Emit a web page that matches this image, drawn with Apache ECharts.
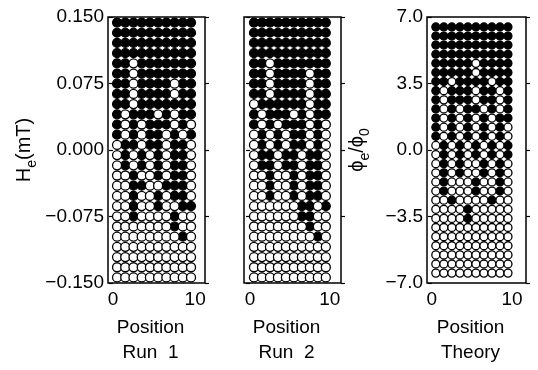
<!DOCTYPE html>
<html>
<head>
<meta charset="utf-8">
<script src="https://cdn.jsdelivr.net/npm/echarts@6/dist/echarts.min.js"></script>
<style>html,body{margin:0;padding:0;background:#fff;}#c{width:538px;height:370px;}</style>
</head>
<body>
<div id="c"></div>
<script>
// Column positions (cells along the array)
const cols = [0.5, 1.5, 2.5, 3.5, 4.5, 5.5, 6.5, 7.5, 8.5, 9.5];
// Applied field rows for measured runs (mT), top to bottom
const runFields = [0.14375, 0.13225, 0.12075, 0.10925, 0.09775, 0.08625, 0.07475, 0.06325, 0.05175, 0.04025, 0.02875, 0.01725, 0.00575,
  -0.00575, -0.01725, -0.02875, -0.04025, -0.05175, -0.06325, -0.07475, -0.08625, -0.09775, -0.10925, -0.12075, -0.13225, -0.14375];
// Flux rows for theory (phi_e/phi_0), top to bottom
const theoryFlux = [6.48, 6.00, 5.52, 5.04, 4.56, 4.08, 3.60, 3.12, 2.64, 2.16, 1.68, 1.20, 0.72, 0.24,
  -0.24, -0.72, -1.20, -1.68, -2.16, -2.64, -3.12, -3.60, -4.08, -4.56, -5.04, -5.52, -6.00, -6.48];
// 1 = filled (vortex), 0 = open
const run1 = [
  '1111111111','1111111111','1111111111','1111111111',
  '1101111111','1101111111','1101111011','1101111011','1101111111',
  '1011101011','1010111010','1010110101','0110110110','0101010110',
  '0101010110','0010010110','0011001110','0010010110','0010010011',
  '0010000100','0000000100','0000000010',
  '0000000000','0000000000','0000000000','0000000000'
];
const run2 = [
  '1111111111','1111111111','1111111111','1111111111',
  '1101111111','1101111011','1101111011','1101111011','0111111011',
  '1011101011','1010111010','0101011010','0101011010','0110110110',
  '0110110110','0010010110','0010010110','0010010110','0000001101',
  '0000001100','0000000100','0000000010',
  '0000000000','0000000000','0000000000','0000000000'
];
const theory = [
  '1111111111','1111111111','1111111111','1111111111',
  '1111101111','1111101111','1101111011','1011101101','1011101101',
  '1010110101','1010101011','1010101010','1010101010','0101010101',
  '0101010101','0101001010','0101001010','0100010010','0100010010',
  '0010000100','0000100000','0000100000',
  '0000000000','0000000000','0000000000','0000000000','0000000000','0000000000'
];
const xTickLabels = [0, 10];

function pts(pattern, ys, filled) {
  const out = [];
  pattern.forEach((row, i) => {
    cols.forEach((c, j) => {
      if ((row[j] === '1') === filled) out.push([c, ys[i]]);
    });
  });
  return out;
}

const FONT = 'Liberation Sans, Arial, sans-serif';
const FS = 19;

function fmt(v, digits) {
  if (Math.abs(v) < 1e-9) v = 0;
  return (v < 0 ? '−' : '') + Math.abs(v).toFixed(digits);
}

const grids = [
  { left: 108, top: 17, width: 97, height: 266 },
  { left: 244, top: 17, width: 97, height: 266 },
  { left: 427, top: 17, width: 99, height: 266 }
].map(g => Object.assign(g, { show: true, borderColor: '#000', borderWidth: 1.5, backgroundColor: 'transparent' }));

const xNames = ['Position\nRun  1', 'Position\nRun  2', 'Position\nTheory'];
const xMin = [-0.6, -0.75, -0.6];
const xMax = [11.2, 11.4, 11.75];

const xAxis = grids.map((g, i) => ({
  type: 'value', gridIndex: i, min: xMin[i], max: xMax[i],
  axisLine: { show: false }, splitLine: { show: false },
  axisTick: { show: false },
  axisLabel: { customValues: xTickLabels, color: '#000', fontSize: FS, fontFamily: FONT, margin: 7 },
  name: xNames[i], nameLocation: 'middle', nameGap: 32,
  nameTextStyle: { color: '#000', fontSize: FS, fontFamily: FONT, lineHeight: 25, padding: [0, 12, 0, 0] }
}));

const richName = {
  n: { fontSize: 20, fontFamily: FONT, color: '#000', lineHeight: 22, verticalAlign: 'top' },
  s: { fontSize: 14, fontFamily: FONT, color: '#000', lineHeight: 14, padding: [11, 0, 0, 0], verticalAlign: 'top' }
};

const yAxis = [];
for (let i = 0; i < 3; i++) {
  const isTheory = i === 2;
  const base = {
    type: 'value', gridIndex: i,
    min: isTheory ? -7 : -0.15, max: isTheory ? 7 : 0.15, interval: isTheory ? 3.5 : 0.075,
    axisLine: { show: false }, splitLine: { show: false },
    axisTick: { show: true, inside: false, length: 4, lineStyle: { color: '#000', width: 1.2 } }
  };
  yAxis.push(Object.assign({}, base, {
    position: 'left',
    axisLabel: {
      show: i !== 1, color: '#000', fontSize: FS, fontFamily: FONT, margin: 4,
      formatter: v => fmt(v, isTheory ? 1 : 3)
    },
    name: i === 0 ? '{n|H}{s|e}{n|(mT)}' : (i === 2 ? '{n|ϕ}{s|e}{n|/ϕ}{s|0}' : ''),
    nameLocation: 'middle', nameGap: i === 0 ? 72 : 58,
    nameTextStyle: { color: '#000', fontSize: 20, fontFamily: FONT, rich: richName }
  }));
  yAxis.push(Object.assign({}, base, {
    position: 'right', axisLabel: { show: false }
  }));
}

const panels = [[run1, runFields, 9], [run2, runFields, 9], [theory, theoryFlux, 8]];
const series = [];
panels.forEach(([pat, ys, size], i) => {
  series.push({
    type: 'scatter', xAxisIndex: i, yAxisIndex: 2 * i, symbol: 'circle', symbolSize: size,
    itemStyle: { color: '#000', borderColor: '#000', borderWidth: 1.2, opacity: 1 },
    data: pts(pat, ys, true), silent: true, animation: false
  });
  series.push({
    type: 'scatter', xAxisIndex: i, yAxisIndex: 2 * i, symbol: 'circle', symbolSize: size,
    itemStyle: { color: '#fff', borderColor: '#000', borderWidth: 1.3, opacity: 1 },
    data: pts(pat, ys, false), silent: true, animation: false
  });
});

const chart = echarts.init(document.getElementById('c'), null, { renderer: 'canvas' });
chart.setOption({
  backgroundColor: '#fff',
  animation: false,
  grid: grids,
  xAxis: xAxis,
  yAxis: yAxis,
  series: series
});
</script>
</body>
</html>
